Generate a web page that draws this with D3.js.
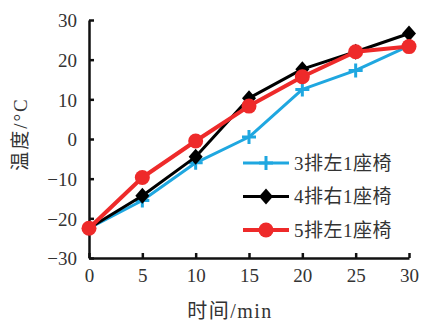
<!DOCTYPE html>
<html>
<head>
<meta charset="utf-8">
<script src="https://cdn.jsdelivr.net/npm/d3@7"></script>
<style>
  body { margin: 0; background: #fff; }
  svg text { font-family: "Liberation Serif", "Times New Roman", "DejaVu Serif", "Noto Sans CJK SC", serif; }
</style>
</head>
<body>
<div id="chart"></div>
<script>
// datos
var times = [0, 5, 10, 15, 20, 25, 30];
var seat3L = [-22.5, -15.5, -6, 0.5, 12.5, 17.3, 23.5];
var seat4R = [-22.5, -14.3, -4.5, 10.3, 17.6, 22, 26.6];
var seat5L = [-22.5, -9.7, -0.5, 8.3, 15.7, 22, 23.3];
var seriesNames = ["3排左1座椅", "4排右1座椅", "5排左1座椅"];
var yTicks = [-30, -20, -10, 0, 10, 20, 30];
var xTicks = [0, 5, 10, 15, 20, 25, 30];

var W = 427, H = 326;
var margin = {top: 20, right: 18, bottom: 68, left: 89};

var svg = d3.select("#chart").append("svg")
  .attr("width", W).attr("height", H);

var x = d3.scaleLinear().domain([0, 30]).range([margin.left, W - margin.right]);
var y = d3.scaleLinear().domain([-30, 30]).range([H - margin.bottom, margin.top]);

// ejes
var yAxis = svg.append("g")
  .attr("transform", "translate(" + margin.left + ",0)")
  .call(d3.axisLeft(y).tickValues(yTicks).tickSizeInner(-5).tickSizeOuter(0).tickPadding(12));
var xAxis = svg.append("g")
  .attr("transform", "translate(0," + (H - margin.bottom) + ")")
  .call(d3.axisBottom(x).tickValues(xTicks).tickSizeInner(-5).tickSizeOuter(0).tickPadding(11));

[yAxis, xAxis].forEach(function(a) {
  a.attr("font-family", null).attr("font-size", 19);
  a.select(".domain").attr("stroke", "#111").attr("stroke-width", 2.5);
  a.selectAll(".tick line").attr("stroke", "#111").attr("stroke-width", 2.5);
  a.selectAll(".tick text").attr("fill", "#333");
});
yAxis.selectAll(".tick text").attr("dy", "0.36em");

// etiquetas de ejes
svg.append("text")
  .attr("transform", "translate(27,134) rotate(-90)")
  .attr("text-anchor", "middle")
  .style("font-size", "19px").style("letter-spacing", "2px").attr("fill", "#333")
  .text("温度/°C");
svg.append("text")
  .attr("x", 230).attr("y", 318)
  .attr("text-anchor", "middle")
  .style("font-size", "20px").style("letter-spacing", "1.5px").attr("fill", "#333")
  .text("时间/min");

var series = [
  {name: seriesNames[0], values: seat3L, color: "#1fa7e0", width: 3, marker: "plus"},
  {name: seriesNames[1], values: seat4R, color: "#000000", width: 3, marker: "diamond"},
  {name: seriesNames[2], values: seat5L, color: "#ee2a2a", width: 4, marker: "circle"}
];

var line = d3.line()
  .x(function(d, i) { return x(times[i]); })
  .y(function(d) { return y(d); });

function drawMarker(g, type, color) {
  if (type === "plus") {
    g.append("path")
      .attr("d", "M-7,0H7M0,-7V7").attr("stroke", color).attr("stroke-width", 3).attr("fill", "none");
  } else if (type === "diamond") {
    g.append("path").attr("d", "M0,-8L7,0L0,8L-7,0Z").attr("fill", color);
  } else {
    g.append("circle").attr("r", 7.5).attr("fill", color);
  }
}

series.forEach(function(s) {
  svg.append("path")
    .datum(s.values)
    .attr("d", line)
    .attr("fill", "none")
    .attr("stroke", s.color)
    .attr("stroke-width", s.width)
    .attr("stroke-linejoin", "round");
  s.values.forEach(function(v, i) {
    var g = svg.append("g").attr("transform", "translate(" + x(times[i]) + "," + y(v) + ")");
    drawMarker(g, s.marker, s.color);
  });
});

// leyenda
var legend = svg.append("g");
series.forEach(function(s, i) {
  var ly = 163 + i * 33.5;
  legend.append("line")
    .attr("x1", 243).attr("x2", 289).attr("y1", ly).attr("y2", ly)
    .attr("stroke", s.color).attr("stroke-width", s.width);
  var g = legend.append("g").attr("transform", "translate(266," + ly + ")");
  drawMarker(g, s.marker, s.color);
  legend.append("text")
    .attr("x", 294).attr("y", ly).attr("dy", "0.36em")
    .style("font-size", "19px").style("letter-spacing", "0.5px").attr("fill", "#333")
    .text(s.name);
});
</script>
</body>
</html>
